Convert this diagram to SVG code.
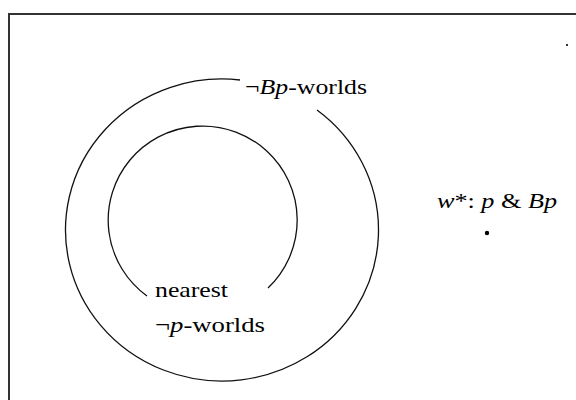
<svg xmlns="http://www.w3.org/2000/svg" width="576" height="400" viewBox="0 0 576 400">
<style>
.arc{fill:none;stroke:#111;stroke-width:1.3}
.t{font-family:"Liberation Serif","Times New Roman",serif;font-size:22px;fill:#000}
.i{font-style:italic}
</style>
<rect width="576" height="400" fill="#fff"/>
<path d="M9 400 V14 H576" fill="none" stroke="#333" stroke-width="2"/>
<g id="connectors"></g>
<g id="outer">
<path class="arc" d="M317 110 A156.5 151 0 1 1 240 80"/>
<text class="t" x="245" y="94" textLength="122" lengthAdjust="spacingAndGlyphs">¬<tspan class="i">Bp</tspan>-worlds</text>
</g>
<g id="inner">
<path class="arc" d="M268 288 A94.5 94 0 1 0 147 296"/>
<text class="t" x="155" y="297" textLength="73" lengthAdjust="spacingAndGlyphs">nearest</text>
<text class="t" x="155" y="332" textLength="110" lengthAdjust="spacingAndGlyphs">¬<tspan class="i">p</tspan>-worlds</text>
</g>
<g id="wstar">
<text class="t" x="437" y="208" textLength="120" lengthAdjust="spacingAndGlyphs"><tspan class="i">w</tspan>*: <tspan class="i">p</tspan> &amp; <tspan class="i">Bp</tspan></text>
<circle cx="487" cy="233" r="2.2" fill="#000"/>
</g>
<g id="dot">
<rect x="566" y="44" width="2" height="2" fill="#333"/>
</g>
</svg>
